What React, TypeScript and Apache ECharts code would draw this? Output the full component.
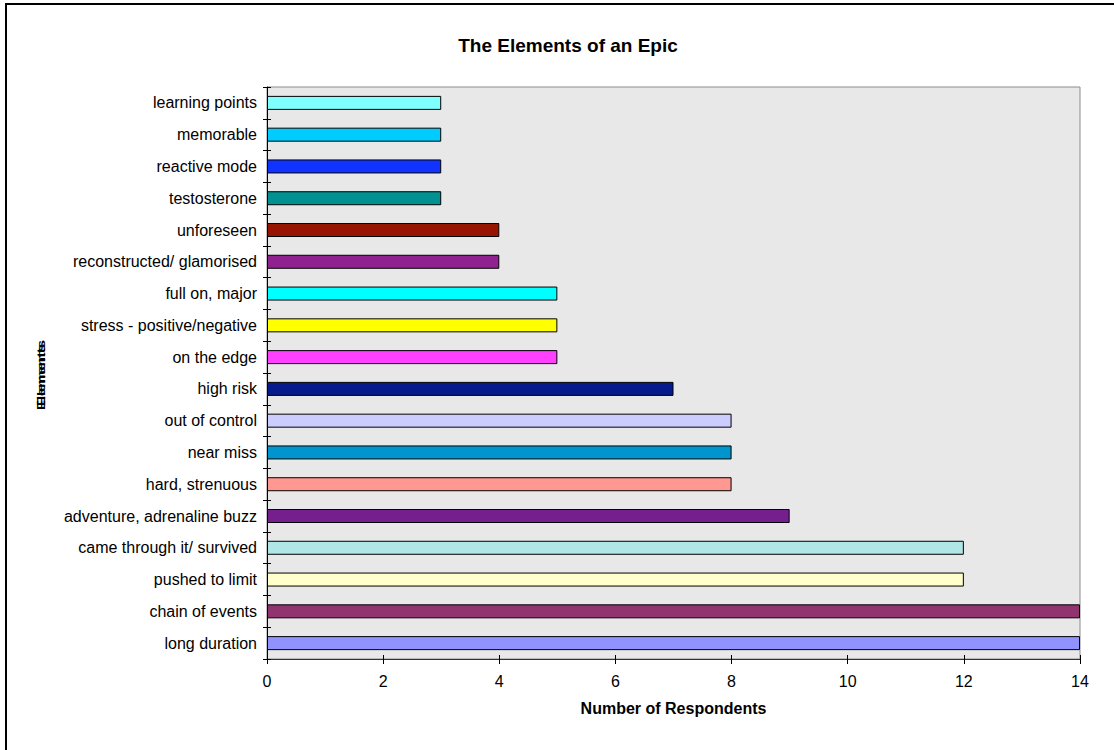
import React, { useEffect, useRef } from "react";
import * as echarts from "echarts";

const categories = [
  "long duration",
  "chain of events",
  "pushed to limit",
  "came through it/ survived",
  "adventure, adrenaline buzz",
  "hard, strenuous",
  "near miss",
  "out of control",
  "high risk",
  "on the edge",
  "stress - positive/negative",
  "full on, major",
  "reconstructed/ glamorised",
  "unforeseen",
  "testosterone",
  "reactive mode",
  "memorable",
  "learning points",
];
const values = [14, 14, 12, 12, 9, 8, 8, 8, 7, 5, 5, 5, 4, 4, 3, 3, 3, 3];
const barColors = [
  "#9292ff",
  "#90336f",
  "#ffffcc",
  "#afe6e6",
  "#751e8e",
  "#ff9890",
  "#0095cc",
  "#ccccff",
  "#061a8c",
  "#ff40ff",
  "#ffff00",
  "#00ffff",
  "#902290",
  "#961400",
  "#009190",
  "#1133ff",
  "#00ccff",
  "#80ffff",
];
const xTicks = { min: 0, max: 14, interval: 2 };

export default function App() {
  const ref = useRef<HTMLDivElement>(null);
  useEffect(() => {
    if (!ref.current) return;
    const chart = echarts.init(ref.current, null, { renderer: "svg" });
    const font = "Liberation Sans, Arial, sans-serif";
    chart.setOption({
      animation: false,
      backgroundColor: "#ffffff",
      textStyle: { fontFamily: font },
      title: {
        text: "The Elements of an Epic",
        left: 563,
        textAlign: "center",
        top: 31,
        textStyle: { fontSize: 19, fontWeight: "bold", color: "#000", fontFamily: font },
      },
      grid: {
        left: 267,
        right: 34,
        top: 87,
        bottom: 91,
        show: true,
        backgroundColor: "#e8e8e8",
        borderColor: "#8c8c8c",
        borderWidth: 1,
      },
      xAxis: [
        {
          type: "value",
          min: xTicks.min,
          max: xTicks.max,
          interval: xTicks.interval,
          name: "Number of Respondents",
          nameLocation: "middle",
          nameGap: 41,
          nameTextStyle: { fontSize: 16, fontWeight: "bold", color: "#000" },
          axisLine: { show: true, lineStyle: { color: "#333", width: 1 } },
          axisTick: { show: true, length: 5, lineStyle: { color: "#000" } },
          axisLabel: { fontSize: 16, color: "#000", margin: 14 },
          splitLine: { show: false },
        },
        {
          type: "value",
          position: "bottom",
          min: xTicks.min,
          max: xTicks.max,
          interval: xTicks.interval,
          axisLine: { show: false },
          axisTick: { show: true, inside: true, length: 4, lineStyle: { color: "#000" } },
          axisLabel: { show: false },
          splitLine: { show: false },
        },
      ],
      yAxis: [
        {
          type: "category",
          data: categories,
          axisLine: { show: true, lineStyle: { color: "#000", width: 1 } },
          axisTick: { show: true, length: 4, lineStyle: { color: "#000" } },
          axisLabel: { fontSize: 16, color: "#000", margin: 10 },
          splitLine: { show: false },
        },
        {
          type: "category",
          data: categories,
          position: "left",
          axisLine: { show: false },
          axisTick: { show: true, inside: true, length: 4, lineStyle: { color: "#000" } },
          axisLabel: { show: false },
          splitLine: { show: false },
        },
      ],
      series: [
        {
          type: "bar",
          data: values.map((v, i) => ({ value: v, itemStyle: { color: barColors[i] } })),
          barWidth: 14,
          itemStyle: { borderColor: "#000", borderWidth: 1 },
        },
      ],
      graphic: [
        {
          type: "rect",
          shape: { x: 6, y: 4, width: 1200, height: 800 },
          style: { fill: "none", stroke: "#000", lineWidth: 2 },
          silent: true,
        },
        {
          type: "text",
          x: 41,
          y: 377,
          rotation: Math.PI / 2,
          scaleX: 1.35,
          style: {
            text: "Elements",
            fontSize: 11,
            fontWeight: "bold",
            fontFamily: font,
            fill: "#000",
            align: "center",
            verticalAlign: "middle",
          },
        },
        {
          type: "text",
          x: 41,
          y: 373,
          rotation: Math.PI / 2,
          scaleX: 1.35,
          style: {
            text: "Elements",
            fontSize: 11,
            fontWeight: "bold",
            fontFamily: font,
            fill: "#000",
            align: "center",
            verticalAlign: "middle",
          },
        },
      ],
    });
    return () => chart.dispose();
  }, []);
  return (
    <div
      ref={ref}
      style={{ position: "absolute", left: 0, top: 0, width: 1114, height: 750 }}
    />
  );
}
